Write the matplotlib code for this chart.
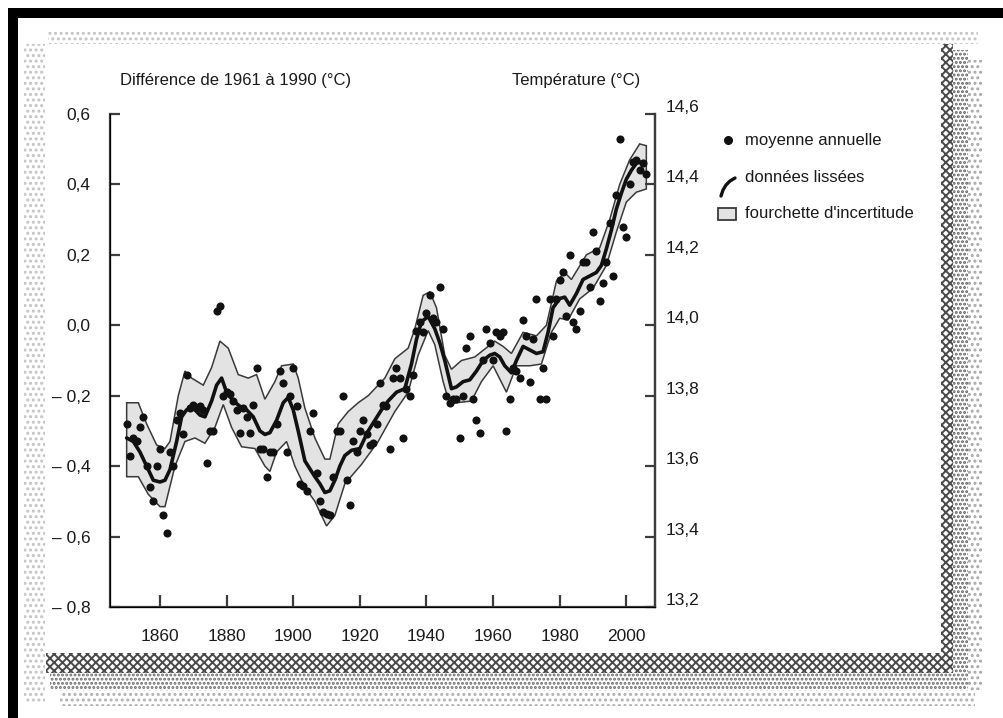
import numpy as np
import matplotlib.pyplot as plt
import matplotlib.transforms as mtransforms
from matplotlib.patches import Rectangle

plt.rcParams['font.family'] = ['Liberation Sans', 'DejaVu Sans']
plt.rcParams['hatch.linewidth'] = 1.4

# annual means, anomaly vs 1961-1990 (deg C)
years = list(range(1850, 2007))
annual = [
    -0.28, -0.37, -0.32, -0.33, -0.29, -0.26, -0.40, -0.46, -0.50, -0.40,   # 1850s
    -0.35, -0.54, -0.59, -0.36, -0.40, -0.27, -0.25, -0.31, -0.14, -0.235,  # 1860s
    -0.225, -0.235, -0.23, -0.24, -0.39, -0.30, -0.30, 0.04, 0.055, -0.20,  # 1870s
    -0.19, -0.195, -0.215, -0.24, -0.305, -0.235, -0.26, -0.305, -0.225, -0.12,  # 1880s
    -0.35, -0.35, -0.43, -0.36, -0.36, -0.28, -0.13, -0.165, -0.36, -0.20,  # 1890s
    -0.12, -0.23, -0.45, -0.455, -0.47, -0.30, -0.25, -0.42, -0.50, -0.53,  # 1900s
    -0.535, -0.54, -0.43, -0.30, -0.30, -0.20, -0.44, -0.51, -0.33, -0.36,  # 1910s
    -0.30, -0.27, -0.31, -0.34, -0.335, -0.28, -0.165, -0.225, -0.23, -0.35,  # 1920s
    -0.15, -0.12, -0.15, -0.32, -0.18, -0.20, -0.14, -0.015, 0.01, -0.02,  # 1930s
    0.035, 0.085, 0.02, 0.01, 0.11, -0.01, -0.20, -0.22, -0.21, -0.21,     # 1940s
    -0.32, -0.20, -0.065, -0.03, -0.21, -0.27, -0.305, -0.10, -0.01, -0.05,  # 1950s
    -0.10, -0.02, -0.03, -0.02, -0.30, -0.21, -0.12, -0.13, -0.15, 0.015,  # 1960s
    -0.03, -0.16, -0.04, 0.075, -0.21, -0.12, -0.21, 0.075, -0.03, 0.075,  # 1970s
    0.13, 0.15, 0.025, 0.20, 0.01, -0.01, 0.04, 0.18, 0.18, 0.11,          # 1980s
    0.265, 0.21, 0.07, 0.12, 0.18, 0.29, 0.14, 0.37, 0.53, 0.28,           # 1990s
    0.25, 0.40, 0.465, 0.47, 0.44, 0.46, 0.43,                             # 2000s
]

# smoothed curve
smooth_years = [1850, 1852, 1854, 1856, 1858, 1860, 1861.5, 1863, 1865, 1866.5,
                1868, 1870, 1872, 1873.5, 1875.5, 1877, 1878.5, 1880, 1882, 1884,
                1886, 1888, 1890, 1891.5, 1893, 1895, 1897, 1898.5, 1900, 1901.5,
                1903.5, 1906.5, 1908, 1909.5, 1911, 1912.5, 1914, 1915.5, 1917.5, 1920,
                1922.5, 1924.5, 1926.5, 1928.5, 1931, 1933.5, 1935.5, 1937, 1938.5, 1940.5,
                1942.5, 1944, 1945.5, 1947.5, 1949, 1951, 1953, 1955, 1957, 1959,
                1960.5, 1962, 1963.5, 1965.5, 1967, 1969, 1971, 1973, 1975, 1976.5,
                1978, 1980, 1981.5, 1983, 1985, 1987, 1989, 1991, 1992.5, 1994,
                1995.5, 1997, 1998.5, 2000, 2001.5, 2003, 2005]
smooth_vals = [-0.32, -0.33, -0.36, -0.40, -0.44, -0.445, -0.44, -0.41, -0.33, -0.26,
               -0.24, -0.235, -0.255, -0.26, -0.215, -0.17, -0.15, -0.19, -0.215, -0.23,
               -0.24, -0.26, -0.30, -0.31, -0.305, -0.27, -0.22, -0.205, -0.24, -0.30,
               -0.385, -0.43, -0.45, -0.475, -0.47, -0.44, -0.40, -0.37, -0.355, -0.35,
               -0.30, -0.27, -0.24, -0.215, -0.19, -0.18, -0.11, -0.04, 0.01, 0.025,
               -0.01, -0.05, -0.10, -0.18, -0.175, -0.16, -0.155, -0.13, -0.10, -0.085,
               -0.08, -0.09, -0.115, -0.135, -0.10, -0.06, -0.07, -0.08, -0.075, -0.02,
               0.05, 0.076, 0.08, 0.057, 0.09, 0.13, 0.14, 0.15, 0.17, 0.217,
               0.27, 0.33, 0.375, 0.415, 0.44, 0.46, 0.465]

# uncertainty range
upper_years = [1850, 1853.5, 1856, 1859, 1861.5, 1863, 1865.5, 1867.5, 1869.5, 1873,
               1875.5, 1878, 1880.5, 1883.5, 1886.5, 1889, 1891.5, 1894.5, 1896.5, 1900,
               1901.5, 1903.5, 1906.5, 1909.5, 1911, 1913.5, 1916.5, 1919.5, 1922.5, 1925,
               1927.5, 1930.5, 1934.5, 1936.5, 1939, 1941, 1943, 1945.5, 1947.5, 1950.5,
               1954.5, 1958.5, 1960.5, 1963, 1965.5, 1969, 1973, 1976, 1979, 1981.5,
               1983.5, 1988, 1992, 1995, 1998, 2001, 2004, 2006]
upper_vals = [-0.22, -0.22, -0.28, -0.34, -0.35, -0.33, -0.20, -0.13, -0.15, -0.17,
              -0.12, -0.045, -0.065, -0.14, -0.15, -0.14, -0.21, -0.16, -0.115, -0.11,
              -0.15, -0.235, -0.32, -0.38, -0.38, -0.28, -0.245, -0.22, -0.20, -0.175,
              -0.15, -0.095, -0.065, -0.01, 0.085, 0.095, 0.05, -0.085, -0.125, -0.10,
              -0.09, -0.06, -0.045, -0.06, -0.08, -0.02, -0.03, 0.0, 0.125, 0.15,
              0.13, 0.20, 0.22, 0.30, 0.40, 0.47, 0.515, 0.51]
lower_years = [1850, 1853.5, 1856.5, 1860, 1861.5, 1864.5, 1867.5, 1870.5, 1873.5, 1876.5,
               1879, 1881.5, 1884.5, 1888.5, 1891.5, 1893, 1895, 1898, 1900.5, 1903.5,
               1906.5, 1910, 1912.5, 1915.5, 1920.5, 1925.5, 1930.5, 1934.5, 1937.5, 1940.5,
               1942.5, 1945, 1947, 1949, 1953.5, 1956.5, 1960, 1964, 1967, 1971,
               1974.5, 1977.5, 1980, 1982.5, 1986, 1990, 1994, 1997, 2000, 2003, 2006]
lower_vals = [-0.43, -0.43, -0.48, -0.515, -0.515, -0.40, -0.33, -0.32, -0.335, -0.29,
              -0.225, -0.29, -0.345, -0.35, -0.40, -0.415, -0.36, -0.33, -0.40, -0.46,
              -0.50, -0.57, -0.54, -0.45, -0.395, -0.33, -0.245, -0.19, -0.085, -0.015,
              -0.055, -0.16, -0.225, -0.22, -0.215, -0.16, -0.115, -0.19, -0.115, -0.115,
              -0.11, -0.02, 0.02, 0.015, 0.075, 0.105, 0.17, 0.265, 0.35, 0.378, 0.387]

left_ticks = [0.6, 0.4, 0.2, 0.0, -0.2, -0.4, -0.6, -0.8]
left_labels = ['0,6', '0,4', '0,2', '0,0', '\u2013 0,2', '\u2013 0,4', '\u2013 0,6', '\u2013 0,8']
right_ticks = [14.6, 14.4, 14.2, 14.0, 13.8, 13.6, 13.4, 13.2]
right_labels = ['14,6', '14,4', '14,2', '14,0', '13,8', '13,6', '13,4', '13,2']
year_ticks = [1860, 1880, 1900, 1920, 1940, 1960, 1980, 2000]

W, H = 1004, 718
fig = plt.figure(figsize=(W / 100, H / 100), dpi=100)
fig.patch.set_facecolor('white')

# background: black frame and dithered shadow, in pixel coords
bg = fig.add_axes((0, 0, 1, 1))
bg.set_xlim(0, W)
bg.set_ylim(H, 0)
bg.axis('off')
bg.add_patch(Rectangle((8, 8), W - 8, 10, color='black', lw=0))
bg.add_patch(Rectangle((8, 8), 10, H - 8, color='black', lw=0))
# faint dotted top / left edges
bg.add_patch(Rectangle((48, 32), 930, 12, facecolor='white', hatch='...', edgecolor='#c4c4c4', lw=0))
bg.add_patch(Rectangle((24, 44), 21, 660, facecolor='white', hatch='...', edgecolor='#c4c4c4', lw=0))
# right shadow: dense strip, then sparser dots
bg.add_patch(Rectangle((941, 44), 12, 630, facecolor='white', hatch='xxxx', edgecolor='#4a4a4a', lw=0))
bg.add_patch(Rectangle((953, 50), 15, 640, facecolor='white', hatch='....', edgecolor='#606060', lw=0))
bg.add_patch(Rectangle((968, 60), 14, 630, facecolor='white', hatch='...', edgecolor='#a8a8a8', lw=0))
# bottom shadow
bg.add_patch(Rectangle((46, 653), 907, 20, facecolor='white', hatch='xxxx', edgecolor='#4a4a4a', lw=0))
bg.add_patch(Rectangle((50, 673), 918, 17, facecolor='white', hatch='....', edgecolor='#6a6a6a', lw=0))
bg.add_patch(Rectangle((60, 690), 915, 16, facecolor='white', hatch='...', edgecolor='#b0b0b0', lw=0))

# main axes
ax = fig.add_axes((110 / W, 1 - 607 / H, 545 / W, 493 / H))
ax.set_facecolor('none')
ax.set_xlim(1845, 2008.6)
ax.set_ylim(-0.8, 0.6)

band_x = upper_years + lower_years[::-1]
band_y = upper_vals + lower_vals[::-1]
ax.fill(band_x, band_y, facecolor='#e3e3e3', edgecolor='#3a3a3a', lw=1.1, zorder=1)
ax.plot(smooth_years, smooth_vals, color='#111111', lw=2.6, solid_capstyle='round', zorder=2)
ax.scatter(years, annual, s=34, color='#111111', lw=0, zorder=3)

spine_col = '#3c3c3c'
ax.spines['top'].set_visible(False)
for side in ['left', 'right', 'bottom']:
    ax.spines[side].set_color(spine_col)
    ax.spines[side].set_linewidth(1.6)

ax.set_xticks(year_ticks)
ax.set_xticklabels([str(y) for y in year_ticks])
ax.set_yticks(left_ticks)
ax.set_yticklabels(left_labels)
ax.tick_params(axis='both', direction='in', length=7, width=1.6, color=spine_col,
               labelsize=12.5, labelcolor='#1a1a1a')
ax.tick_params(axis='x', pad=16, length=9)
ax.tick_params(axis='y', pad=14)

ax2 = ax.twinx()
ax2.set_ylim(13.2, 14.6)
ax2.set_yticks(right_ticks)
ax2.set_yticklabels(right_labels)
ax2.spines['top'].set_visible(False)
ax2.spines['right'].set_color(spine_col)
ax2.spines['right'].set_linewidth(1.6)
ax2.tick_params(axis='y', direction='in', length=7, width=1.6, color=spine_col,
                labelsize=12.5, labelcolor='#1a1a1a', pad=8)
shift = mtransforms.ScaledTranslation(0, 8 / 100, fig.dpi_scale_trans)
for lab in ax2.get_yticklabels():
    lab.set_transform(lab.get_transform() + shift)

fig.text(120 / W, 1 - 80 / H, 'Diff\u00e9rence de 1961 \u00e0 1990 (\u00b0C)', fontsize=12,
         color='#1a1a1a', ha='left', va='center')
fig.text(640 / W, 1 - 80 / H, 'Temp\u00e9rature (\u00b0C)', fontsize=12,
         color='#1a1a1a', ha='right', va='center')

# legend
bg.plot([728], [140], marker='o', ms=5.5, color='#111111', ls='none')
bg.plot([721, 723, 726, 730, 735], [196, 190, 185, 181, 178], color='#111111', lw=2.4,
        solid_capstyle='round')
bg.add_patch(Rectangle((718, 208), 18, 12, facecolor='#e3e3e3', edgecolor='#3a3a3a', lw=1.3))
for ty, txt in [(140, 'moyenne annuelle'), (178, 'donn\u00e9es liss\u00e9es'),
                (214, "fourchette d'incertitude")]:
    bg.text(745, ty, txt, fontsize=12, color='#1a1a1a', ha='left', va='center')

fig.savefig('out.png', dpi=100)
